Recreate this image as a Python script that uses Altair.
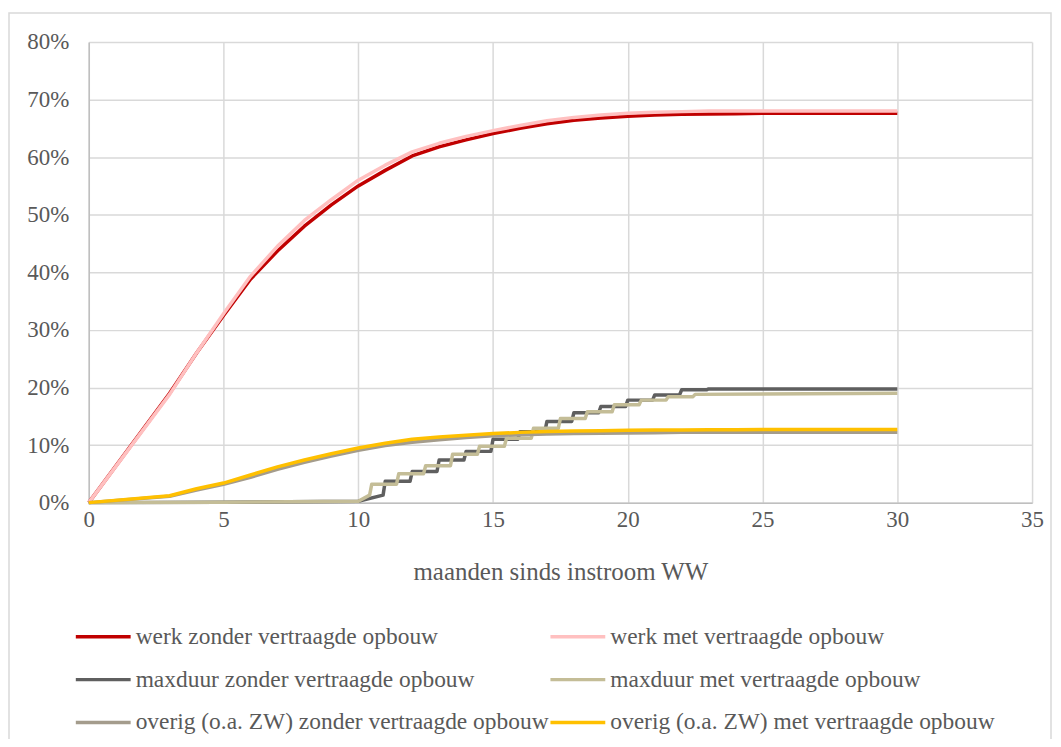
import altair as alt
import pandas as pd

# ---------------- data (percent) ----------------
months = [0, 3, 4, 5, 6, 7, 8, 9, 10, 11, 12, 13, 14, 15, 16, 17, 18, 19, 20,
          21, 22, 23, 24, 25, 26, 27, 28, 29, 30]
werk_zonder = [0, 19.0, 26.0, 32.5, 38.8, 43.7, 48.0, 51.7, 55.0, 57.7,
               60.2, 61.8, 63.0, 64.1, 65.0, 65.8, 66.4, 66.8, 67.1, 67.3,
               67.45, 67.5, 67.55, 67.6, 67.6, 67.6, 67.6, 67.6, 67.6]
werk_met = [0, 18.8, 26.0, 32.8, 39.3, 44.5, 49.0, 52.6, 56.0, 58.6,
            60.9, 62.4, 63.6, 64.6, 65.5, 66.3, 66.9, 67.3, 67.6, 67.8,
            67.9, 68.0, 68.0, 68.0, 68.0, 68.0, 68.0, 68.0, 68.0]
overig_zonder = [0, 1.1, 2.2, 3.2, 4.4, 5.8, 7.0, 8.1, 9.1, 9.9,
                 10.5, 10.9, 11.3, 11.6, 11.8, 11.9, 12.0, 12.05, 12.1, 12.15,
                 12.2, 12.2, 12.2, 12.2, 12.2, 12.2, 12.2, 12.2, 12.2]
overig_met = [0, 1.2, 2.4, 3.4, 4.8, 6.2, 7.4, 8.5, 9.5, 10.3,
              11.0, 11.4, 11.7, 12.0, 12.2, 12.35, 12.45, 12.5, 12.55, 12.6,
              12.6, 12.65, 12.65, 12.7, 12.7, 12.7, 12.7, 12.7, 12.7]

# staircase series: flat start, then steps (month of step, level after step)
maxduur_start_x = [0, 5, 10]
maxduur_start_y = [0, 0.05, 0.25]
maxduur_pre_level = 1.3
maxduur_zonder_steps_x = [11, 12, 13, 14, 15, 16, 17, 18, 19, 20, 21, 22, 23]
maxduur_zonder_levels = [3.7, 5.4, 7.4, 8.9, 11.0, 12.3, 14.1, 15.6, 16.7, 17.8, 18.7, 19.6, 19.75]
maxduur_met_steps_x = [10.5, 11.5, 12.5, 13.5, 14.5, 15.5, 16.5, 17.5, 18.5, 19.5, 20.5, 21.5, 22.5]
maxduur_met_levels = [3.2, 5.0, 6.4, 8.4, 9.8, 11.2, 12.9, 14.6, 15.8, 17.0, 17.8, 18.4, 18.8]
maxduur_met_end = 19.0
maxduur_zonder_end = 19.75
end_month = 30

names = [
    "werk zonder vertraagde opbouw",
    "werk met vertraagde opbouw",
    "maxduur zonder vertraagde opbouw",
    "maxduur met vertraagde opbouw",
    "overig (o.a. ZW) zonder vertraagde opbouw",
    "overig (o.a. ZW) met vertraagde opbouw",
]
colors = ["#C00000", "#FFC0C0", "#5F5F5F", "#C4BD97", "#A49C8C", "#FFC000"]
# legend fills column by column: left column = "zonder", right column = "met"
legend_order = [0, 2, 4, 1, 3, 5]

# ---------------- build table ----------------
rows = []
for name, vals in [(names[0], werk_zonder), (names[1], werk_met),
                   (names[4], overig_zonder), (names[5], overig_met)]:
    for i, (m, v) in enumerate(zip(months, vals)):
        rows.append({"series": name, "x": m, "y": v / 100, "o": i})


def stair(name, steps_x, levels, end_level):
    pts = list(zip(maxduur_start_x, maxduur_start_y))
    prev = maxduur_pre_level
    for sx, lv in zip(steps_x, levels):
        pts.append((sx - 0.08, prev))
        pts.append((sx, lv))
        prev = lv
    pts.append((end_month, end_level))
    for i, (xx, yy) in enumerate(pts):
        rows.append({"series": name, "x": xx, "y": yy / 100, "o": i})


stair(names[2], maxduur_zonder_steps_x, maxduur_zonder_levels, maxduur_zonder_end)
stair(names[3], maxduur_met_steps_x, maxduur_met_levels, maxduur_met_end)

df = pd.DataFrame(rows)

FONT = "Liberation Serif"
TXT = "#595959"

x_enc = alt.X("x:Q", scale=alt.Scale(domain=[0, 35], nice=False),
              axis=alt.Axis(values=[0, 5, 10, 15, 20, 25, 30, 35], title="maanden sinds instroom WW",
                            labelFontSize=23, titleFontSize=25, labelPadding=6, titlePadding=28,
                            titleFontWeight="normal", ticks=False, labelFlush=False,
                            labelFont=FONT, titleFont=FONT, labelColor=TXT, titleColor=TXT))
y_enc = alt.Y("y:Q", scale=alt.Scale(domain=[0, 0.8], nice=False),
              axis=alt.Axis(values=[0, 0.1, 0.2, 0.3, 0.4, 0.5, 0.6, 0.7, 0.8], format=".0%",
                            title=None, labelFontSize=23, labelPadding=20, ticks=False,
                            labelFlush=False, labelFont=FONT, labelColor=TXT))
color_enc = alt.Color("series:N",
                      scale=alt.Scale(domain=[names[i] for i in legend_order],
                                      range=[colors[i] for i in legend_order]),
                      title=None,
                      legend=alt.Legend(orient="none", legendX=-13, legendY=581, columns=2,
                                        columnPadding=-6, rowPadding=16,
                                        symbolType="M-2,0H2", symbolSize=756, symbolStrokeWidth=3.5,
                                        symbolOffset=12, labelOffset=17, labelFontSize=23.5,
                                        labelColor=TXT, labelFont=FONT, labelLimit=0, padding=0))

base = alt.Chart(df).mark_line(strokeWidth=3.5, strokeJoin="round").encode(
    x=x_enc, y=y_enc, color=color_enc, order="o:Q")

layers = [base.transform_filter(alt.datum.series == s) for s in names]

frame = alt.Chart(pd.DataFrame({"a": [0]})).mark_rect(
    fill="transparent", stroke="#D9D9D9", strokeWidth=1.5).encode(
    x=alt.value(-80), x2=alt.value(965), y=alt.value(-29), y2=alt.value(800))

chart = alt.layer(frame, *layers).properties(
    width=946, height=462,
    background="white",
    padding={"left": 81, "top": 33, "right": 21, "bottom": 236},
    autosize=alt.AutoSizeParams(type="none"),
).configure_view(strokeWidth=0).configure_axis(
    gridColor="#D9D9D9", gridWidth=1.5, domainColor="#BFBFBF", domainWidth=1.5,
)

chart.save("out.html", embed_options={"renderer": "svg", "actions": False})
